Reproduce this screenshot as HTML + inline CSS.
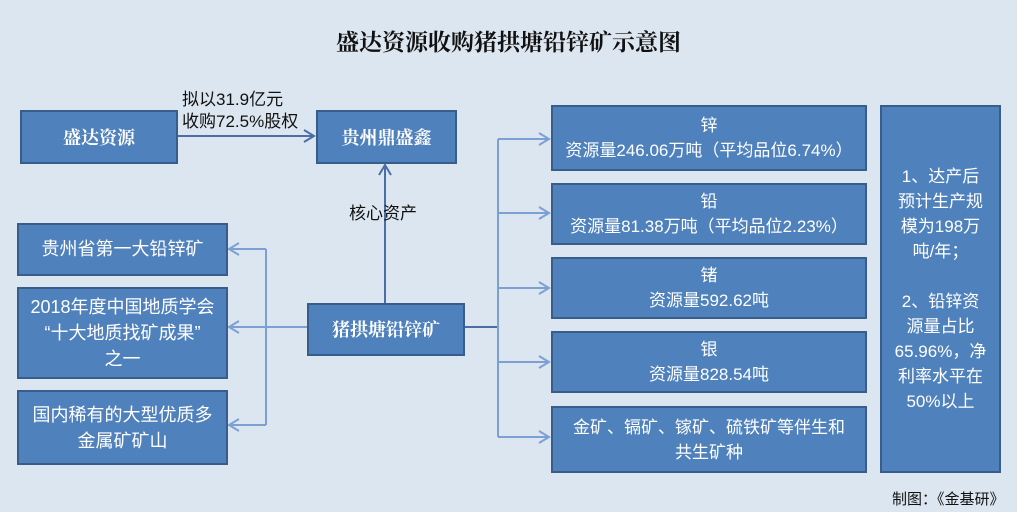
<!DOCTYPE html>
<html><head><meta charset="utf-8"><style>
body{margin:0;width:1017px;height:512px;background:#dce6f0;position:relative;overflow:hidden;font-family:"Liberation Sans","Noto Sans CJK SC",sans-serif}
.b{position:absolute;background:#4f81bd;border:2px solid #385d8a;box-sizing:border-box;color:#fff;display:flex;align-items:center;justify-content:center;text-align:center;font-size:17px;line-height:25px;white-space:nowrap}
.bold{font-weight:bold;font-size:18px;font-family:"Noto Serif CJK SC","Noto Sans CJK SC",serif}
.t{position:absolute;color:#111;font-size:17px;line-height:22px}
svg{position:absolute;left:0;top:0}
</style></head><body>
<div class="t" style="left:0;width:1017px;top:27px;text-align:center;font-size:23px;line-height:28px;font-weight:bold;font-family:'Noto Serif CJK SC',serif">盛达资源收购猪拱塘铅锌矿示意图</div>
<svg width="1017" height="512">
<g stroke="#4a6fa5" stroke-width="2" fill="none">
<line x1="177" y1="136" x2="314" y2="136"/><polyline points="304,130 314,136 304,142"/>
<line x1="385" y1="305" x2="385" y2="165"/><polyline points="379,175 385,165 391,175"/>
<line x1="464" y1="327" x2="498" y2="327"/>
</g>
<g stroke="#7ca0d4" stroke-width="2" fill="none">
<line x1="307" y1="327" x2="266" y2="327"/>
<line x1="266" y1="249" x2="266" y2="425"/>
<line x1="266" y1="249" x2="229" y2="249"/><polyline points="239,243 229,249 239,255"/>
<line x1="266" y1="327" x2="229" y2="327"/><polyline points="239,321 229,327 239,333"/>
<line x1="266" y1="425" x2="229" y2="425"/><polyline points="239,419 229,425 239,431"/>
<line x1="498" y1="139" x2="498" y2="437"/>
<line x1="498" y1="139" x2="549" y2="139"/><polyline points="539,133 549,139 539,145"/>
<line x1="498" y1="213" x2="549" y2="213"/><polyline points="539,207 549,213 539,219"/>
<line x1="498" y1="288" x2="549" y2="288"/><polyline points="539,282 549,288 539,294"/>
<line x1="498" y1="362" x2="549" y2="362"/><polyline points="539,356 549,362 539,368"/>
<line x1="498" y1="437" x2="549" y2="437"/><polyline points="539,431 549,437 539,443"/>
</g></svg>
<div class="t" style="left:182px;top:89px">拟以31.9亿元<br>收购72.5%股权</div>
<div class="t" style="left:349px;top:203px">核心资产</div>
<div class="b bold" style="left:20px;top:110px;width:158px;height:54px">盛达资源</div>
<div class="b bold" style="left:316px;top:110px;width:141px;height:54px">贵州鼎盛鑫</div>
<div class="b bold" style="left:307px;top:303px;width:158px;height:53px">猪拱塘铅锌矿</div>
<div class="b" style="left:17px;top:223px;width:211px;height:53px;font-size:18px">贵州省第一大铅锌矿</div>
<div class="b" style="left:17px;top:287px;width:211px;height:92px;font-size:18px;line-height:26px">2018年度中国地质学会<br>“十大地质找矿成果”<br>之一</div>
<div class="b" style="left:17px;top:390px;width:211px;height:75px;font-size:18px;line-height:26px">国内稀有的大型优质多<br>金属矿矿山</div>
<div class="b" style="left:551px;top:105px;width:316px;height:66px">锌<br>资源量246.06万吨（平均品位6.74%）</div>
<div class="b" style="left:551px;top:183px;width:316px;height:62px">铅<br>资源量81.38万吨（平均品位2.23%）</div>
<div class="b" style="left:551px;top:257px;width:316px;height:62px">锗<br>资源量592.62吨</div>
<div class="b" style="left:551px;top:331px;width:316px;height:62px">银<br>资源量828.54吨</div>
<div class="b" style="left:551px;top:406px;width:316px;height:67px">金矿、镉矿、镓矿、硫铁矿等伴生和<br>共生矿种</div>
<div class="b" style="left:880px;top:105px;width:121px;height:368px;line-height:25px">1、达产后<br>预计生产规<br>模为198万<br>吨/年；<br><br>2、铅锌资<br>源量占比<br>65.96%，净<br>利率水平在<br>50%以上</div>
<div class="t" style="left:892px;top:489px;font-size:15px">制图：《金基研》</div>
</body></html>
